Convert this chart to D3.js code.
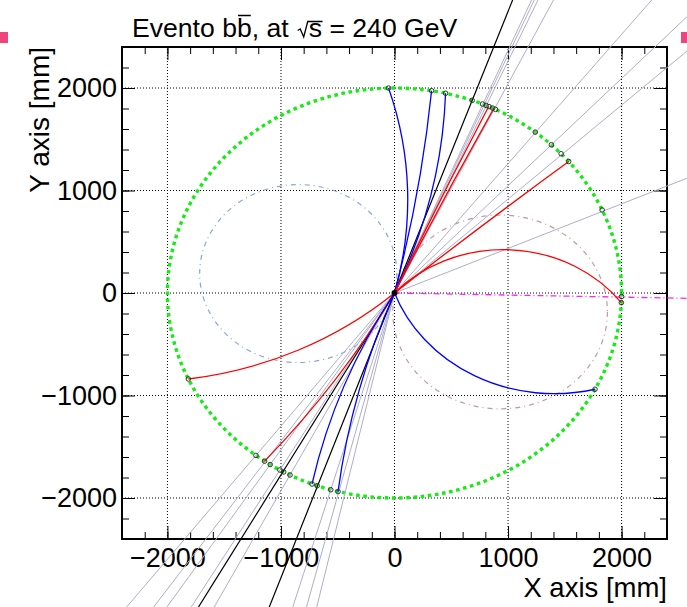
<!DOCTYPE html>
<html>
<head>
<meta charset="utf-8">
<script src="https://cdn.jsdelivr.net/npm/d3@7"></script>
<style>
  body { margin: 0; background: #fff; }
  svg { display: block; font-family: "Liberation Sans", Arial, Helvetica, sans-serif; }
</style>
</head>
<body>
<svg id="display" width="687" height="607"></svg>
<script>

//////////////////////////////  data  //////
var majorTicks = [-2000, -1000, 0, 1000, 2000];
var minorTicks = d3.range(-2400, 2401, 200);
var detectorRadius = 2000;

// hits on the r = 2000 mm layer (degrees)
var hitAngles = [91.5, 80.6, 77.0, 70.0, 67.2, 66.2, 65.4, 64.4, 63.6, 51.7, 46.3, 42.8, 39.9, 23.9,
                 -1.0, -2.7, -28.0, 204.8, 232.4, 235.1, 236.8, 239.7, 240.8, 242.6, 248.7, 250.1, 253.7, 255.6];

// straight lines out of the vertex (degrees)
var greyRays = [67.1, 66.7, 66.15, 63.9, 51.6, 46.3, 42.5, 23.5,
                232.4, 235.3, 236.8, 239.7, 242.6, 253.7, 255.8, 257.4];
var blackRays = [70.0, 250.2, 240.6];
var magentaRay = -1.15;

// charged tracks: end angle on the layer, radius of curvature [mm], charge
var trackEnd    = [91.5, 80.6, 77.0, 65.5, 64.1, 39.9, -2.7, -28.0, 204.8, 235.1, 248.7, 255.6];
var trackRadius = [3600, 14000, 5200, 60000, 60000, 60000, 1300, 1500, 3400, 9000, 6000, 7700];
var trackCharge = [-1, -1, -1, 1, 1, 1, 1, -1, 1, 1, -1, -1];

// full helix circles (dash-dot)
var helixCx = [-848, 930];
var helixCy = [190, -185];
var helixR  = [868, 945];

var titleHead = "Evento bb, at";
var titleRoot = "s";
var titleTail = " = 240 GeV";


//////////////////////////////  chart  //////
var svg = d3.select("svg#display");

var x = d3.scaleLinear().domain([-2400, 2400]).range([122, 667]);
var y = d3.scaleLinear().domain([-2400, 2400]).range([539, 47]);
var kx = x(1) - x(0), ky = y(0) - y(1);

function polar(r, deg) {
  var a = deg * Math.PI / 180;
  return [r * Math.cos(a), r * Math.sin(a)];
}

// grid
var grid = svg.append("g").attr("class", "grid");
grid.selectAll("line.gx").data(majorTicks).enter().append("line")
  .attr("x1", function(d) { return x(d); }).attr("x2", function(d) { return x(d); })
  .attr("y1", y(-2400)).attr("y2", y(2400));
grid.selectAll("line.gy").data(majorTicks).enter().append("line")
  .attr("y1", function(d) { return y(d); }).attr("y2", function(d) { return y(d); })
  .attr("x1", x(-2400)).attr("x2", x(2400));
grid.selectAll("line").style("stroke", "#000").style("stroke-width", 1).style("stroke-dasharray", "1,2");

// axes (ticks drawn inward on all four sides)
function addAxis(axisFn, scale, tr, size, values, labels) {
  var ax = axisFn(scale).tickValues(values).tickSizeInner(-size).tickSizeOuter(0).tickPadding(labels ? 6 : 0);
  ax.tickFormat(labels ? function(d) { return d < 0 ? "\u2212" + Math.abs(d) : d; } : "");
  var g = svg.append("g").attr("transform", tr).call(ax);
  g.select("path.domain").remove();
  g.selectAll(".tick line").style("stroke", "#000").style("stroke-width", 1);
  g.selectAll("text").style("font-size", "27px").style("fill", "#000").style("font-family", "'Liberation Sans', Arial, sans-serif");
  return g;
}
addAxis(d3.axisBottom, x, "translate(0," + y(-2400) + ")", 7, minorTicks, false);
var gxb = addAxis(d3.axisBottom, x, "translate(0," + y(-2400) + ")", 13, majorTicks, true);
gxb.selectAll("text").attr("y", 9);
addAxis(d3.axisTop, x, "translate(0," + y(2400) + ")", 7, minorTicks, false);
addAxis(d3.axisTop, x, "translate(0," + y(2400) + ")", 13, majorTicks, false);
addAxis(d3.axisLeft, y, "translate(" + x(-2400) + ",0)", 7, minorTicks, false);
var gyl = addAxis(d3.axisLeft, y, "translate(" + x(-2400) + ",0)", 13, majorTicks, true);
gyl.selectAll("text").attr("x", -5);
addAxis(d3.axisRight, y, "translate(" + x(2400) + ",0)", 7, minorTicks, false);
addAxis(d3.axisRight, y, "translate(" + x(2400) + ",0)", 13, majorTicks, false);

// frame
svg.append("rect")
  .attr("x", x(-2400)).attr("y", y(2400))
  .attr("width", x(2400) - x(-2400)).attr("height", y(-2400) - y(2400))
  .style("fill", "none").style("stroke", "#000").style("stroke-width", 2);

// axis titles
svg.append("text")
  .attr("x", x(2400)).attr("y", 597)
  .attr("text-anchor", "end")
  .style("font-size", "27.5px")
  .text("X axis [mm]");
svg.append("text")
  .attr("transform", "translate(49," + y(2400) + ") rotate(-90)")
  .attr("text-anchor", "end")
  .style("font-size", "28px")
  .text("Y axis [mm]");

// title: overlined b and a drawn square root
var tx = 132, ty = 37, tfs = "26.6px";
var t1 = svg.append("text").attr("x", tx).attr("y", ty).style("font-size", tfs).text(titleHead);
var n1 = t1.node();
function overline(xa, xb, yy) {
  svg.append("line").attr("x1", xa).attr("x2", xb).attr("y1", yy).attr("y2", yy)
    .style("stroke", "#000").style("stroke-width", 1.5);
}
var bIdx = titleHead.lastIndexOf("b");
var bx = tx + n1.getSubStringLength(0, bIdx), bw = n1.getSubStringLength(bIdx, 1);
overline(bx + 1, bx + bw - 1, 15.5);

var xr = tx + n1.getComputedTextLength() + 9;
var t2 = svg.append("text").attr("x", xr + 11).attr("y", ty).style("font-size", tfs).text(titleRoot);
var sw = t2.node().getComputedTextLength();
svg.append("path")
  .attr("d", "M" + xr + "," + 30.5 + "L" + (xr + 2.5) + "," + 29 + "L" + (xr + 6) + "," + 37 +
             "L" + (xr + 10) + "," + 21.5 + "L" + (xr + 11.5 + sw) + "," + 21.5)
  .style("fill", "none").style("stroke", "#000").style("stroke-width", 1.3);
svg.append("text").attr("x", xr + 11 + sw).attr("y", ty).style("font-size", tfs)
  .style("white-space", "pre").text(titleTail);

// side markers
svg.append("rect").attr("x", 0).attr("y", 32).attr("width", 8).attr("height", 11).style("fill", "#f0457a");
svg.append("rect").attr("x", 681).attr("y", 32).attr("width", 6).attr("height", 11).style("fill", "#f0457a");

// detector layer
svg.append("ellipse")
  .attr("cx", x(0)).attr("cy", y(0))
  .attr("rx", detectorRadius * kx).attr("ry", detectorRadius * ky)
  .style("fill", "none").style("stroke", "#14ec14").style("stroke-width", 3.4)
  .style("stroke-dasharray", "3.6,3.6");

// helix circles
var helixColors = ["#8aa6de", "#c19b9b"];
svg.selectAll("ellipse.helix").data(helixR).enter().append("ellipse")
  .attr("class", "helix")
  .attr("cx", function(d, i) { return x(helixCx[i]); })
  .attr("cy", function(d, i) { return y(helixCy[i]); })
  .attr("rx", function(d) { return d * kx; })
  .attr("ry", function(d) { return d * ky; })
  .style("fill", "none")
  .style("stroke", function(d, i) { return helixColors[i]; })
  .style("stroke-width", 1.2)
  .style("stroke-dasharray", "5,4,1,4");

// straight lines
var rayLength = 8000;
function drawRays(angles, color, width, dash) {
  var sel = svg.append("g").selectAll("line").data(angles).enter().append("line")
    .attr("x1", x(0)).attr("y1", y(0))
    .attr("x2", function(d) { return x(polar(rayLength, d)[0]); })
    .attr("y2", function(d) { return y(polar(rayLength, d)[1]); })
    .style("stroke", color).style("stroke-width", width);
  if (dash) sel.style("stroke-dasharray", dash);
}
drawRays(greyRays, "#aeaecb", 1);
drawRays([magentaRay], "#ff22ff", 1.3, "6,3,1,3");
drawRays(blackRays, "#000", 1.2);

// charged tracks
svg.append("g").selectAll("path").data(trackEnd).enter().append("path")
  .attr("d", function(d, i) {
    var e = polar(detectorRadius, d);
    var r = trackRadius[i];
    var sweep = trackCharge[i] > 0 ? 1 : 0;
    return "M" + x(0) + "," + y(0) +
      "A" + (r * kx) + "," + (r * ky) + " 0 0 " + sweep + " " + x(e[0]) + "," + y(e[1]);
  })
  .style("fill", "none")
  .style("stroke", function(d, i) { return trackCharge[i] > 0 ? "#ff0000" : "#0000ff"; })
  .style("stroke-width", 1.3);

// hits
svg.append("g").selectAll("circle").data(hitAngles).enter().append("circle")
  .attr("cx", function(d) { return x(polar(detectorRadius, d)[0]); })
  .attr("cy", function(d) { return y(polar(detectorRadius, d)[1]); })
  .attr("r", 2.3)
  .style("fill", "none").style("stroke", "#333").style("stroke-width", 1);

// vertex
svg.append("circle").attr("cx", x(0)).attr("cy", y(0)).attr("r", 3).style("fill", "#000");

</script>
</body>
</html>
